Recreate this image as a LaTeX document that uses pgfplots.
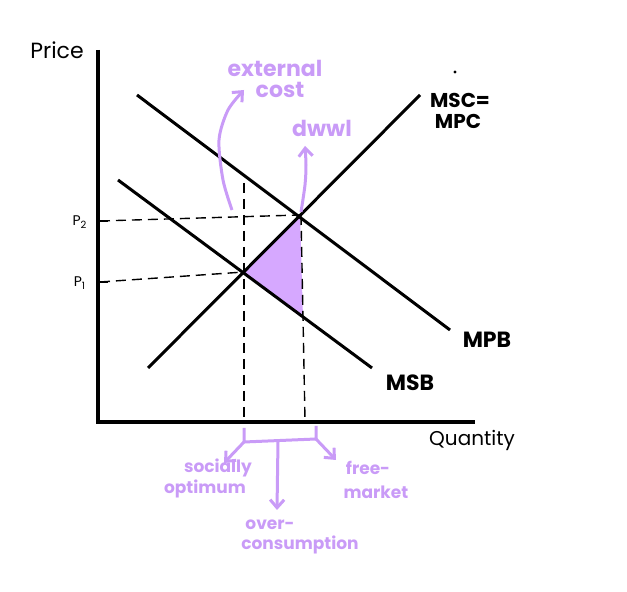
\documentclass[border=0pt]{standalone}
\usepackage{pgfplots}
\pgfplotsset{compat=1.18}
\usepackage{fontspec}
\setmainfont{Poppins}
\usetikzlibrary{arrows.meta}
\definecolor{lav}{HTML}{C99BF7}
\definecolor{fillv}{HTML}{D6A8FF}
\begin{document}
\begin{tikzpicture}
\begin{axis}[scale only axis, width=313.5pt, height=296pt,
  xmin=0, xmax=627, ymin=0, ymax=592, y dir=reverse,
  hide axis, clip=false]
% frame the whole picture (invisible)
\addplot[draw=none] coordinates {(0,0) (627,592)};
% deadweight welfare loss
\addplot[fill=fillv, draw=none] coordinates {(244,272) (300,215) (303,318)} -- cycle;
% axes
\addplot[black, line width=1.8pt] coordinates {(98,50) (98,422) (475,422)};
% curves
\addplot[black, line width=1.5pt] coordinates {(137,95) (450,330)};
\addplot[black, line width=1.5pt] coordinates {(118,180) (372,368)};
\addplot[black, line width=1.5pt] coordinates {(148,368) (420,95)};
% stray dot
\addplot[black, only marks, mark=*, mark size=0.5pt] coordinates {(455,72)};
% dashed guides
\addplot[black, line width=0.7pt, dash pattern=on 5pt off 3pt] coordinates {(100,282) (244,272)};
\addplot[black, line width=0.7pt, dash pattern=on 5pt off 3pt] coordinates {(100,221) (300,215)};
\addplot[black, line width=0.7pt, dash pattern=on 5pt off 3pt] coordinates {(244,183) (244,420)};
\addplot[black, line width=0.7pt, dash pattern=on 5pt off 3pt] coordinates {(301,215) (305,420)};
\addplot[black, line width=0.8pt] coordinates {(98,282) (108,282)};
\addplot[black, line width=0.8pt] coordinates {(98,221) (108,221)};
% purple annotations
\addplot[lav, line width=1.5pt, smooth, -{Straight Barb[length=4pt,width=7pt]}] coordinates {(232,210) (223,180) (219,140) (228,110) (244,90)};
\addplot[lav, line width=1.5pt, smooth, -{Straight Barb[length=4pt,width=7pt]}] coordinates {(301,212) (305,185) (306,165) (305,146)};
\addplot[lav, line width=1.5pt] coordinates {(244,428) (244,442) (316,439) (316,426)};
\addplot[lav, line width=1.5pt, -{Straight Barb[length=4pt,width=7pt]}] coordinates {(278,441) (277,510)};
\addplot[lav, line width=1.5pt, -{Straight Barb[length=4pt,width=7pt]}] coordinates {(244,442) (224,463)};
\addplot[lav, line width=1.5pt, -{Straight Barb[length=4pt,width=7pt]}] coordinates {(316,439) (336,460)};
% text
\node[font=\fontsize{11}{12}\selectfont] at (axis cs:57,50) {Price};
\node[font=\fontsize{10}{12}\selectfont] at (axis cs:472,440) {Quantity};
\node[font=\fontsize{7}{10}\selectfont] at (axis cs:80,222) {P\textsubscript{2}};
\node[font=\fontsize{7}{10}\selectfont] at (axis cs:80,283) {P\textsubscript{1}};
\node[font=\fontsize{11}{14}\selectfont\bfseries] at (axis cs:487,340) {MPB};
\node[font=\fontsize{11}{14}\selectfont\bfseries] at (axis cs:410,383) {MSB};
\node[font=\fontsize{10}{12}\selectfont\bfseries] at (axis cs:460,100) {MSC=};
\node[font=\fontsize{10}{12}\selectfont\bfseries] at (axis cs:458,121) {MPC};
\node[lav, font=\fontsize{11}{12}\selectfont\bfseries] at (axis cs:275,68) {external};
\node[lav, font=\fontsize{11}{12}\selectfont\bfseries] at (axis cs:280,90) {cost};
\node[lav, font=\fontsize{11}{12}\selectfont\bfseries] at (axis cs:322,128) {dwwl};
\node[lav, font=\fontsize{8.5}{10}\selectfont\bfseries] at (axis cs:218,468) {socially};
\node[lav, font=\fontsize{8.5}{10}\selectfont\bfseries] at (axis cs:205,489) {optimum};
\node[lav, font=\fontsize{8.5}{10}\selectfont\bfseries] at (axis cs:368,468) {free-};
\node[lav, font=\fontsize{8.5}{10}\selectfont\bfseries] at (axis cs:376,492) {market};
\node[lav, font=\fontsize{8.5}{10}\selectfont\bfseries] at (axis cs:270,525) {over-};
\node[lav, font=\fontsize{8.5}{10}\selectfont\bfseries] at (axis cs:300,545) {consumption};
\end{axis}
\end{tikzpicture}
\end{document}
